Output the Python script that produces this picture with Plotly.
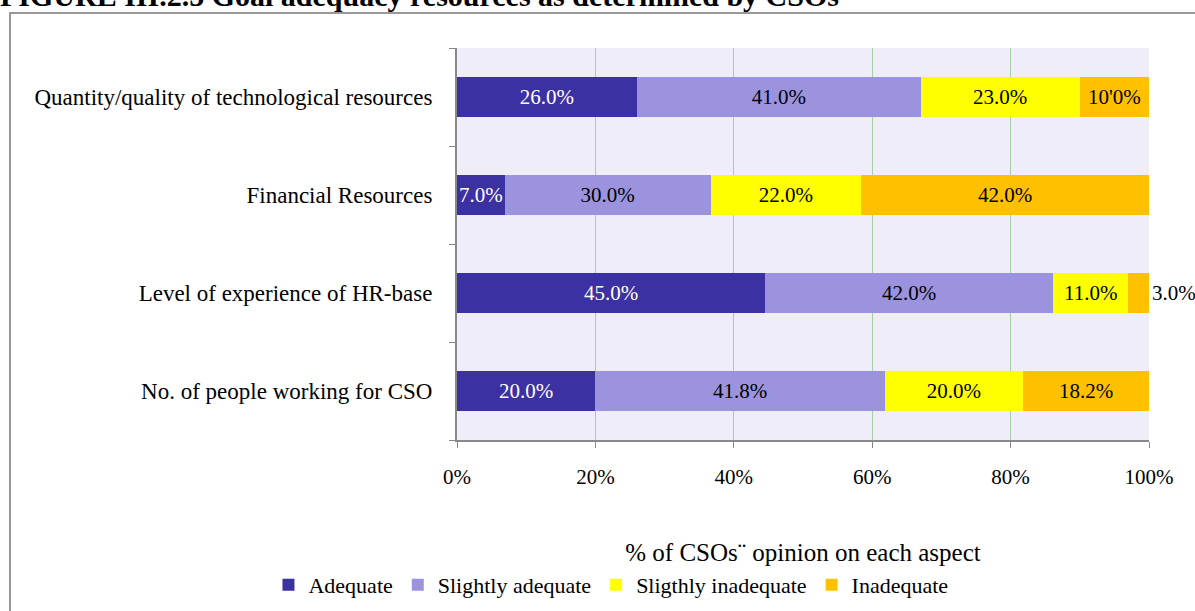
import plotly.graph_objects as go

categories = ["No. of people working for CSO", "Level of experience of HR-base",
              "Financial Resources", "Quantity/quality of technological resources"]
series_names = ["Adequate", "Slightly adequate", "Sligthly inadequate", "Inadequate"]
adequate = [20.0, 45.0, 7.0, 26.0]
slightly_adequate = [41.8, 42.0, 30.0, 41.0]
slightly_inadequate = [20.0, 11.0, 22.0, 23.0]
inadequate = [18.2, 3.0, 42.0, 10.0]
inadequate_labels = ["18.2%", "3.0%", "42.0%", "10'0%"]
x_ticks = [0, 20, 40, 60, 80, 100]
x_tick_labels = ["0%", "20%", "40%", "60%", "80%", "100%"]
colors = ["#3C31A3", "#9B93DE", "#FFFF00", "#FFC000"]

FONT = "Liberation Serif"
values = [adequate, slightly_adequate, slightly_inadequate, inadequate]

fig = go.Figure()
for i, (name, vals) in enumerate(zip(series_names, values)):
    if i == 3:
        text = inadequate_labels
    else:
        text = [f"{v:.1f}%" for v in vals]
    fig.add_trace(go.Bar(
        y=categories, x=vals, name=name, orientation="h",
        marker=dict(color=colors[i], line=dict(width=0)),
        text=text, textposition="auto" if i == 3 else "inside",
        textangle=0, insidetextanchor="middle",
        insidetextfont=dict(family=FONT, size=21, color="white" if i == 0 else "black"),
        outsidetextfont=dict(family=FONT, size=21, color="black"),
        constraintext="none", cliponaxis=False,
    ))

fig.update_layout(
    barmode="stack", barnorm="percent", bargap=0.59,
    width=1195, height=611,
    margin=dict(l=457, r=46, t=48, b=171, autoexpand=False),
    paper_bgcolor="white", plot_bgcolor="#EFEEF8",
    font=dict(family=FONT, size=22, color="black"),
    showlegend=True,
    legend=dict(orientation="h", x=0.2225, xanchor="center", xref="paper",
                y=-0.370, yanchor="middle", font=dict(family=FONT, size=22),
                traceorder="normal", itemwidth=30),
    xaxis=dict(range=[0, 100], tickvals=x_ticks, ticktext=x_tick_labels,
               showgrid=True, gridcolor="#A8CCA8", gridwidth=1,
               showline=True, linecolor="#888888", linewidth=2,
               ticks="outside", ticklen=6, tickcolor="#888888",
               ticklabelstandoff=11, zeroline=False, automargin=False,
               tickfont=dict(family=FONT, size=21),
               title=dict(text="% of CSOs¨ opinion on each aspect",
                          font=dict(family=FONT, size=25), standoff=55)),
    yaxis=dict(categoryorder="array", categoryarray=categories,
               showline=True, linecolor="#888888", linewidth=2,
               ticks="outside", ticklen=6, tickcolor="#888888", automargin=False,
               tickson="boundaries", ticklabelstandoff=18, showgrid=False,
               tickfont=dict(family=FONT, size=23)),
)

fig.add_annotation(text="<b>FIGURE III.2.5 Goal adequacy resources as determined by CSOs</b>",
                   xref="paper", yref="paper", x=-459/692, y=1 + 52/392,
                   xanchor="left", yanchor="middle", showarrow=False,
                   font=dict(family=FONT, size=30, color="black"))

fig.add_shape(type="path", xref="paper", yref="paper",
              path=f"M {1+60/692},{1+35/392} L {-447/692},{1+35/392} L {-447/692},{-190/392}",
              line=dict(color="#999999", width=2))

fig.write_html("out.html", config={"displayModeBar": False},
               post_script="document.body.style.margin='0';document.body.style.overflow='hidden';")
